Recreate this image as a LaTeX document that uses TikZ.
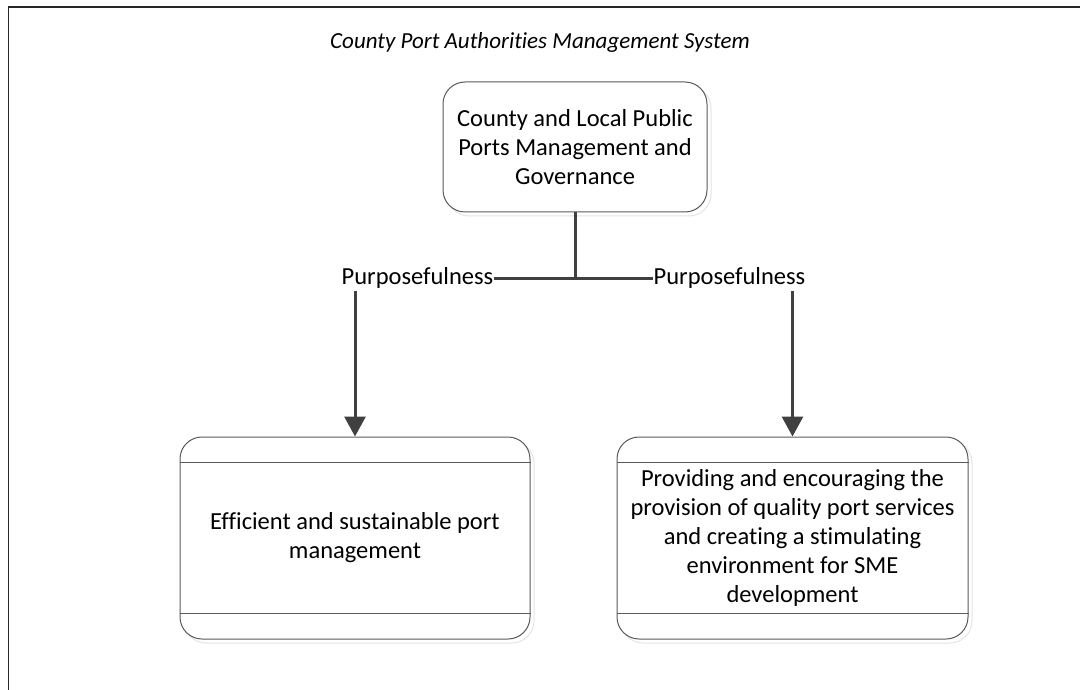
\documentclass[tikz,border=0pt]{standalone}
\usepackage{fontspec}
\setmainfont{Carlito}[Ligatures=NoCommon]
\usetikzlibrary{arrows.meta,calc}
\definecolor{lineg}{HTML}{404040}
\definecolor{boxg}{HTML}{5A5A5A}
\definecolor{shad}{HTML}{E4E4E4}
\tikzset{
  bodytext/.style={font=\fontsize{24.5}{29}\selectfont, align=center},
  rbox/.style={draw=boxg, line width=1pt, rounded corners=22pt, fill=white, bodytext, inner sep=0pt},
  lbl/.style={font=\fontsize{24.5}{29}\selectfont, inner sep=0pt},
  conn/.style={draw=lineg, line width=3pt},
  arr/.style={conn, -{Triangle[width=21pt,length=20pt]}},
  frame/.style={draw=black!85, line width=1.5pt}
}
\begin{document}
\begin{tikzpicture}[x=1pt,y=-1pt]
\useasboundingbox (0,0) rectangle (1080,690);
% outer frame (left and top edges visible)
\draw[frame] (8.5,690) -- (8.5,7) -- (1080,7);
% title
\node[font=\itshape\fontsize{23}{27}\selectfont] (title) at (540,42) {County Port Authorities Management System};
% shadows
\draw[shad, line width=1pt, rounded corners=22pt] (447,86) rectangle (711,216);
\draw[shad, line width=1pt, rounded corners=22pt] (184,441) rectangle (534,643);
\draw[shad, line width=1pt, rounded corners=22pt] (621,441) rectangle (972,643);
% top box
\node[rbox, minimum width=264pt, minimum height=130pt] (top) at (575,147)
  {County and Local Public\\Ports Management and\\Governance};
% bottom boxes
\node[rbox, minimum width=350pt, minimum height=202pt] (lb) at (355,538)
  {Efficient and sustainable port\\management};
\node[rbox, minimum width=351pt, minimum height=202pt] (rb) at (792.5,538)
  {Providing and encouraging the\\provision of quality port services\\and creating a stimulating\\environment for SME\\development};
% inner bands
\draw[boxg, line width=1pt] ($(lb.north west)+(0,26)$) -- ($(lb.north east)+(0,26)$);
\draw[boxg, line width=1pt] ($(lb.south west)+(0,-26)$) -- ($(lb.south east)+(0,-26)$);
\draw[boxg, line width=1pt] ($(rb.north west)+(0,26)$) -- ($(rb.north east)+(0,26)$);
\draw[boxg, line width=1pt] ($(rb.south west)+(0,-26)$) -- ($(rb.south east)+(0,-26)$);
% labels
\node[lbl] (lab1) at (417.5,278) {Purposefulness};
\node[lbl] (lab2) at (729.5,278) {Purposefulness};
\coordinate (junc) at (top.south |- lab1.east);
% connectors
\draw[conn] (top.south) -- (junc);
\draw[conn] (lab1.east) -- (lab2.west);
\draw[arr] ($(lb.north |- lab1.south)+(0,2)$) -- (lb.north);
\draw[arr] ($(rb.north |- lab2.south)+(0,2)$) -- (rb.north);
\end{tikzpicture}
\end{document}
